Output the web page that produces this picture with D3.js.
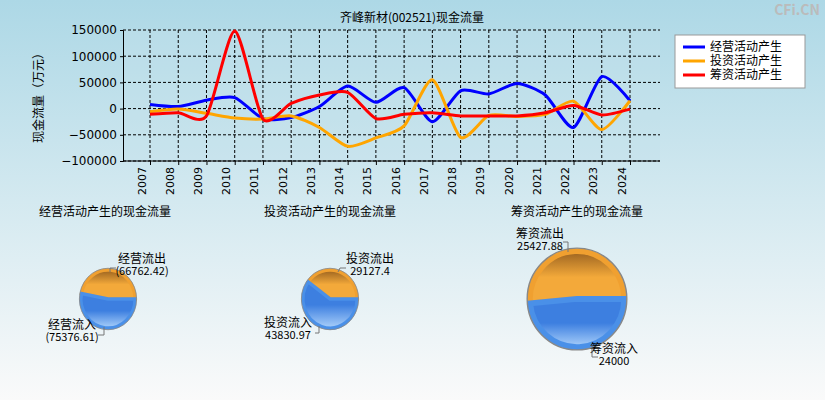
<!DOCTYPE html>
<html><head><meta charset="utf-8">
<script src="https://cdn.jsdelivr.net/npm/d3@7"></script>
<style>body{margin:0;font-family:"Noto Sans CJK SC","DejaVu Sans",sans-serif;}</style>
</head><body><div id="chart"></div>
<script>
var years = ["2007","2008","2009","2010","2011","2012","2013","2014","2015","2016","2017","2018","2019","2020","2021","2022","2023","2024"];
var operating = [8000,4000,16000,21000,-19000,-17000,4000,43000,12000,40000,-25000,34000,28000,48000,26000,-36000,61000,15000];
var investing = [-6000,-1000,-9000,-18000,-20000,-14000,-36000,-72000,-56000,-33000,55000,-55000,-13000,-15000,-11000,14000,-40000,15000];
var financing = [-11000,-8000,-14000,148000,-20000,10000,26000,31000,-19000,-11000,-8000,-14000,-14000,-14000,-8000,6000,-12000,-1000];
var yTicks = [150000,100000,50000,0,-50000,-100000];
var seriesNames = ["经营活动产生","投资活动产生","筹资活动产生"];
var seriesColors = ["#0000ff","#ffa500","#ff0000"];

var pieTitles = ["经营活动产生的现金流量","投资活动产生的现金流量","筹资活动产生的现金流量"];
var pieOut = [66762.42, 29127.4, 25427.88];
var pieIn = [75376.61, 43830.97, 24000];
var outLabels = ["经营流出","投资流出","筹资流出"];
var inLabels = ["经营流入","投资流入","筹资流入"];
var outText = ["(66762.42)","29127.4","25427.88"];
var inText = ["(75376.61)","43830.97","24000"];

var W = 825, H = 400;
var svg = d3.select("#chart").append("svg").attr("width", W).attr("height", H);
var defs = svg.append("defs");

var bg = defs.append("linearGradient").attr("id","bg").attr("x1",0).attr("y1",0).attr("x2",0).attr("y2",1);
bg.append("stop").attr("offset","0%").attr("stop-color","#add8e6");
bg.append("stop").attr("offset","100%").attr("stop-color","#fafafa");
svg.append("rect").attr("width",W).attr("height",H).attr("fill","url(#bg)");

svg.append("text").attr("x",412).attr("y",22).attr("text-anchor","middle")
    .attr("font-size","12px").text("齐峰新材(002521)现金流量");
svg.append("text").attr("x",820).attr("y",15).attr("text-anchor","end")
    .attr("font-size","14px").attr("font-weight","bold").attr("fill","#bbb").text("CFi.CN");

var pLeft = 123, pRight = 660, pTop = 30, pBottom = 161;
var x = d3.scalePoint().domain(years).range([150, 630]);
var y = d3.scaleLinear().domain([-100000,150000]).range([pBottom, pTop]);

var g = svg.append("g");
g.append("rect").attr("x",pLeft).attr("y",pTop).attr("width",pRight-pLeft).attr("height",pBottom-pTop)
    .attr("fill","#c2e0ec").attr("opacity",0.4);

// grid
g.selectAll(".hg").data(yTicks).enter().append("line")
    .attr("x1",pLeft).attr("x2",pRight).attr("y1",function(d){return y(d);}).attr("y2",function(d){return y(d);})
    .attr("stroke","#000").attr("stroke-dasharray","3,2");
g.selectAll(".vg").data(years).enter().append("line")
    .attr("x1",function(d){return x(d);}).attr("x2",function(d){return x(d);})
    .attr("y1",pTop).attr("y2",pBottom)
    .attr("stroke","#000").attr("stroke-dasharray","3,2");

var yAxis = g.append("g").attr("transform","translate("+pLeft+",0)")
    .call(d3.axisLeft(y).tickValues(yTicks).tickSize(3).tickFormat(d3.format("d")));
yAxis.selectAll("text").attr("font-size","12px").attr("fill","#000").attr("font-family","DejaVu Sans");
var xAxis = g.append("g").attr("transform","translate(0,"+pBottom+")")
    .call(d3.axisBottom(x).tickSize(4));
xAxis.select(".domain").attr("d","M"+pLeft+",0H"+pRight);
xAxis.selectAll("text").attr("font-size","11px").attr("fill","#000").attr("font-family","DejaVu Sans")
    .attr("transform","rotate(-90)").attr("text-anchor","end").attr("x",-6).attr("y",-5).attr("dy",0);
svg.append("text").attr("transform","translate(43,95) rotate(-90)").attr("text-anchor","middle")
    .attr("font-size","12px").text("现金流量（万元）");

var line = d3.line().x(function(d,i){return x(years[i]);}).y(function(d){return y(d);})
    .curve(d3.curveCardinal.tension(0.3));
[operating, investing, financing].forEach(function(s,i){
    g.append("path").attr("d",line(s)).attr("fill","none")
        .attr("stroke",seriesColors[i]).attr("stroke-width",3);
});

// legend
var lg = svg.append("g").attr("transform","translate(675,35)");
lg.append("rect").attr("width",130).attr("height",53).attr("fill","#fff").attr("stroke","#999");
seriesNames.forEach(function(n,i){
    lg.append("line").attr("x1",8).attr("x2",30).attr("y1",12+i*14).attr("y2",12+i*14)
        .attr("stroke",seriesColors[i]).attr("stroke-width",3);
    lg.append("text").attr("x",35).attr("y",16+i*14).attr("font-size","12px").text(n);
});

// pies
var og = defs.append("linearGradient").attr("id","og").attr("x1",0).attr("y1",0).attr("x2",0).attr("y2",1);
og.append("stop").attr("offset","0%").attr("stop-color","#9a6220");
og.append("stop").attr("offset","50%").attr("stop-color","#f3a93a");
var bgr = defs.append("linearGradient").attr("id","bgr").attr("x1",0).attr("y1",0).attr("x2",0).attr("y2",1);
bgr.append("stop").attr("offset","50%").attr("stop-color","#3d7fe0");
bgr.append("stop").attr("offset","100%").attr("stop-color","#aad0fa");

var pies = [{cx:108,cy:299,rx:27,ry:29,tx:105},{cx:330,cy:299,rx:27,ry:29,tx:330},{cx:577,cy:299,rx:47,ry:48,tx:577}];
pies.forEach(function(p,i){
    svg.append("text").attr("x",p.tx).attr("y",216).attr("text-anchor","middle")
        .attr("font-size","12px").text(pieTitles[i]);
    var total = pieOut[i]+pieIn[i];
    var a = pieOut[i]/total*2*Math.PI;
    var arc = d3.arc().innerRadius(0).outerRadius(1);
    var pg = svg.append("g").attr("transform","translate("+p.cx+","+p.cy+") scale("+p.rx+","+p.ry+")");
    pg.append("path").attr("d",arc({startAngle:Math.PI/2-a,endAngle:Math.PI/2}))
        .attr("fill","url(#og)").attr("stroke","#f0a030").attr("stroke-width",0.12);
    pg.append("path").attr("d",arc({startAngle:Math.PI/2,endAngle:Math.PI/2-a+2*Math.PI}))
        .attr("fill","url(#bgr)").attr("stroke","#4a90e8").attr("stroke-width",0.12);
    pg.append("ellipse").attr("rx",1.06).attr("ry",1.06).attr("fill","none")
        .attr("stroke","#888").attr("stroke-width",0.03);
});

function label(t1,t2,xx,yy,anchor){
    svg.append("text").attr("x",xx).attr("y",yy).attr("text-anchor",anchor).attr("font-size","12px").text(t1);
    svg.append("text").attr("x",xx).attr("y",yy+12).attr("text-anchor",anchor).attr("font-size","11px").text(t2);
}
function leader(pts){
    svg.append("polyline").attr("points",pts).attr("fill","none").attr("stroke","#777");
}
label(outLabels[0],outText[0],142,263,"middle"); leader("110,272 110,268 116,268");
label(inLabels[0],inText[0],72,329,"middle"); leader("98,335 104,335 104,327");
label(outLabels[1],outText[1],370,263,"middle"); leader("338,272 340,268 346,268");
label(inLabels[1],inText[1],288,327,"middle"); leader("315,333 319,333 319,326");
label(outLabels[2],outText[2],540,238,"middle"); leader("563,242 568,242 568,252");
label(inLabels[2],inText[2],614,353,"middle"); leader("592,345 592,357 598,357");
</script></body></html>
